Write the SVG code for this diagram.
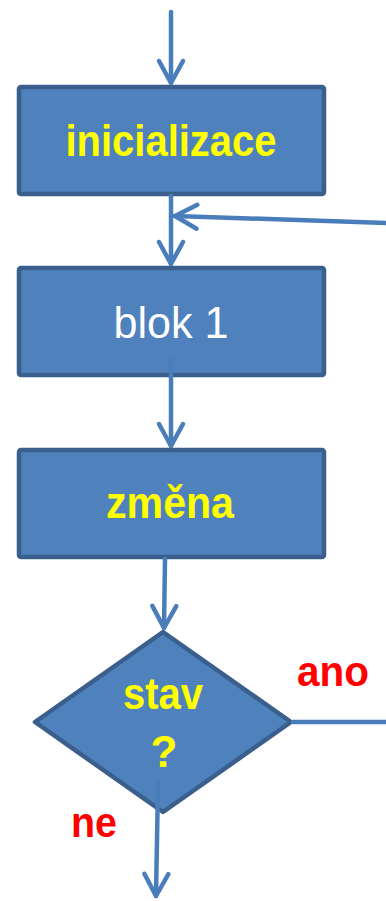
<svg xmlns="http://www.w3.org/2000/svg" width="386" height="901" viewBox="0 0 386 901">
<defs>
<style>
.box{fill:#4F81BD;stroke:#3A5F8C;stroke-width:4.5;stroke-linejoin:round}
.ln{fill:none;stroke:#4A7EBB;stroke-width:4.5;stroke-linecap:round}
.b{font-family:"Liberation Sans",Arial,sans-serif;font-weight:bold;font-size:44px;fill:#FFFF00;text-anchor:middle}
.w{font-family:"Liberation Sans",Arial,sans-serif;font-size:45px;fill:#FFFFFF;text-anchor:middle}
.r{font-family:"Liberation Sans",Arial,sans-serif;font-weight:bold;font-size:43px;fill:#FF0000}
</style>
<marker id="ah" markerUnits="userSpaceOnUse" viewBox="-26 -16 30 32" refX="0" refY="0" markerWidth="30" markerHeight="32" orient="auto" overflow="visible">
<path d="M-22,-12 L0,0 L-22,12" fill="none" stroke="#4A7EBB" stroke-width="4.5" stroke-linecap="round" stroke-linejoin="round"/>
</marker>
</defs>
<rect width="386" height="901" fill="#FFFFFF"/>
<g id="n1">
<rect class="box" x="19" y="87" width="305" height="107" rx="2"/>
<text class="b" x="171" y="156" textLength="211" lengthAdjust="spacingAndGlyphs">inicializace</text>
</g>
<g id="n2">
<rect class="box" x="19" y="268" width="305" height="107" rx="2"/>
<text class="w" x="171" y="338" textLength="115" lengthAdjust="spacingAndGlyphs">blok 1</text>
</g>
<g id="n3">
<rect class="box" x="19" y="450" width="305" height="107" rx="2"/>
<text class="b" x="170" y="518" textLength="128" lengthAdjust="spacingAndGlyphs">změna</text>
</g>
<g id="n4">
<polygon class="box" points="163,632 291,722 163,812 35,722"/>
<text class="b" x="163" y="709" textLength="80" lengthAdjust="spacingAndGlyphs">stav</text>
<text class="b" x="164" y="767">?</text>
</g>
<g id="connectors">
<line class="ln" x1="171" y1="12" x2="171" y2="83" marker-end="url(#ah)"/>
<line class="ln" x1="171" y1="196" x2="171" y2="264" marker-end="url(#ah)"/>
<line class="ln" x1="388" y1="223" x2="175" y2="216" marker-end="url(#ah)"/>
<line class="ln" x1="171" y1="360" x2="171" y2="446" marker-end="url(#ah)"/>
<line class="ln" x1="165" y1="559" x2="164" y2="628" marker-end="url(#ah)"/>
<line class="ln" x1="293" y1="722" x2="388" y2="722"/>
<line class="ln" x1="158" y1="783" x2="156" y2="896" marker-end="url(#ah)"/>
</g>
<text class="r" x="297" y="686" textLength="72" lengthAdjust="spacingAndGlyphs">ano</text>
<text class="r" x="71" y="837" textLength="46" lengthAdjust="spacingAndGlyphs">ne</text>
</svg>
